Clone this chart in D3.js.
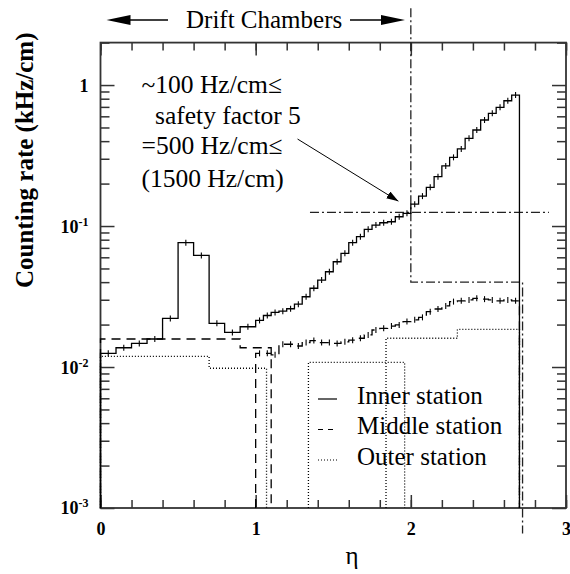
<!DOCTYPE html>
<html>
<head>
<meta charset="utf-8">
<script src="https://cdn.jsdelivr.net/npm/d3@7"></script>
<style>
  body { margin: 0; background: #fff; }
  text { font-family: "Liberation Serif", "Times New Roman", serif; fill: #000; }
</style>
</head>
<body>
<div id="chart"></div>
<script>
// bin edges in eta and counting rates in kHz/cm
const innerEdges = [0, 0.1, 0.2, 0.3, 0.4, 0.5, 0.6, 0.7, 0.8, 0.9, 1.0,
  1.05, 1.1, 1.15, 1.2, 1.25, 1.3, 1.35, 1.4, 1.45, 1.5, 1.55, 1.6, 1.65, 1.7,
  1.75, 1.8, 1.85, 1.9, 1.95, 2.0, 2.05, 2.1, 2.15, 2.2, 2.25, 2.3, 2.35, 2.4,
  2.45, 2.5, 2.55, 2.6, 2.65, 2.7];
const innerRate = [0.0125, 0.0137, 0.0147, 0.0158, 0.0221, 0.0762, 0.0619, 0.0204, 0.0176, 0.0193,
  0.0214, 0.0232, 0.0244, 0.0249, 0.0259, 0.0279, 0.0315, 0.0362, 0.0414, 0.0474,
  0.0558, 0.0640, 0.0762, 0.0840, 0.0948, 0.1016, 0.1055, 0.1072, 0.1164, 0.1230,
  0.143, 0.163, 0.188, 0.224, 0.267, 0.307, 0.352, 0.419, 0.480, 0.565,
  0.630, 0.695, 0.774, 0.849];

const middleBarrelEdges = [0, 0.1, 0.2, 0.3, 0.4, 0.5, 0.6, 0.7, 0.8, 0.9, 1.0, 1.1];
const middleBarrelRate = [0.0158, 0.0158, 0.0158, 0.0158, 0.0158, 0.0158, 0.0158, 0.0158, 0.0158, 0.0137, 0.0137];

const middleEndcapEdges = [1.0, 1.05, 1.1, 1.15, 1.2, 1.25, 1.3, 1.35, 1.4, 1.45, 1.5,
  1.55, 1.6, 1.65, 1.7, 1.75, 1.8, 1.85, 1.9, 1.95, 2.0, 2.05, 2.1, 2.15, 2.2,
  2.25, 2.3, 2.35, 2.4, 2.45, 2.5, 2.55, 2.6, 2.65, 2.7];
const middleEndcapRate = [0.0125, 0.0125, 0.0122, 0.0145, 0.0145, 0.0141, 0.0149, 0.0154, 0.0149, 0.0149,
  0.0147, 0.0151, 0.0155, 0.0160, 0.0169, 0.0183, 0.0188, 0.0195, 0.0199, 0.0210,
  0.0216, 0.0225, 0.0247, 0.0258, 0.0271, 0.0291, 0.0295, 0.0299, 0.0307, 0.0303,
  0.0299, 0.0295, 0.0299, 0.0295];

const outerBarrelEdges = [0, 0.7, 1.07];
const outerBarrelRate = [0.0119, 0.0098];
const outerOverlapEdges = [1.34, 1.96];
const outerOverlapRate = [0.0108];
const outerEndcapEdges = [1.84, 2.3, 2.7];
const outerEndcapRate = [0.0160, 0.0185];

// dash-dot guide lines [eta, rate]
const safetyLine = [[1.35, 0.125], [2.89, 0.125]];
const chamberLimit = [[2.0, 3.5], [2.0, 0.04], [2.72, 0.04], [2.72, 0.00066]];
const arrowFrom = [1.27, 0.414];
const arrowTo = [1.92, 0.150];

const xTickValues = [0, 1, 2, 3];
const yTickValues = [1e-3, 1e-2, 1e-1, 1];
const yTickLabels = [["10", "-3"], ["10", "-2"], ["10", "-1"], ["1", ""]];
const legendLabels = ["Inner station", "Middle station", "Outer station"];
const noteLines = ["~100 Hz/cm\u2264", "safety factor 5", "=500 Hz/cm\u2264", "(1500 Hz/cm)"];

const W = 570, H = 574;
const margin = { top: 42.6, right: 4, bottom: 66, left: 100.5 };
const width = W - margin.left - margin.right;
const height = H - margin.top - margin.bottom;

const root = d3.select("#chart").append("svg")
  .attr("width", W).attr("height", H);

const svg = root.append("g")
  .attr("transform", "translate(" + margin.left + "," + margin.top + ")");

const x = d3.scaleLinear().domain([0, 3]).range([0, width]);
const y = d3.scaleLog().domain([1e-3, 2]).range([height, 0]);

const floor = 1e-3;

// step outline of a histogram, dropping to the floor at both ends
function stepPath(edges, rates) {
  const pts = [[edges[0], floor]];
  rates.forEach(function (r, i) {
    pts.push([edges[i], r]);
    pts.push([edges[i + 1], r]);
  });
  pts.push([edges[edges.length - 1], floor]);
  return d3.line()
    .x(function (d) { return x(d[0]); })
    .y(function (d) { return y(Math.max(d[1], floor)); })(pts);
}

function drawHist(edges, rates, dash) {
  svg.append("path")
    .attr("d", stepPath(edges, rates))
    .attr("fill", "none")
    .attr("stroke", "#000")
    .attr("stroke-width", 1.3)
    .attr("stroke-dasharray", dash);
}

function drawErrors(edges, rates, half) {
  svg.selectAll(null)
    .data(rates)
    .enter()
    .append("line")
    .attr("x1", function (d, i) { return x((edges[i] + edges[i + 1]) / 2); })
    .attr("x2", function (d, i) { return x((edges[i] + edges[i + 1]) / 2); })
    .attr("y1", function (d) { return y(d) - half; })
    .attr("y2", function (d) { return y(d) + half; })
    .attr("stroke", "#000")
    .attr("stroke-width", 1.1);
}

// axes: ticks point inward on all four sides
const tickColor = "#333";
function styleAxis(g) {
  g.select(".domain").remove();
  g.selectAll("line").attr("stroke", tickColor).attr("stroke-width", 1.5);
}

svg.append("g")
  .attr("transform", "translate(0," + height + ")")
  .call(d3.axisBottom(x).tickValues(x.ticks(15)).tickSize(-8).tickFormat(""))
  .call(styleAxis);
svg.append("g")
  .attr("transform", "translate(0," + height + ")")
  .call(d3.axisBottom(x).tickValues(xTickValues).tickSize(-13).tickPadding(14).tickFormat(d3.format("d")))
  .call(styleAxis)
  .selectAll("text")
  .style("font-family", "'Liberation Serif', serif")
  .style("font-size", "18px")
  .style("font-weight", "bold");

svg.append("g")
  .call(d3.axisTop(x).tickValues(x.ticks(15)).tickSize(-8).tickFormat(""))
  .call(styleAxis);
svg.append("g")
  .call(d3.axisTop(x).tickValues(xTickValues).tickSize(-13).tickFormat(""))
  .call(styleAxis);

const minorY = y.ticks().filter(function (d) {
  return yTickValues.indexOf(d) < 0 && d <= 2;
});

svg.append("g")
  .call(d3.axisLeft(y).tickValues(minorY).tickSize(-9).tickFormat(""))
  .call(styleAxis);
svg.append("g")
  .call(d3.axisLeft(y).tickValues(yTickValues).tickSize(-14).tickFormat(""))
  .call(styleAxis);
svg.append("g")
  .attr("transform", "translate(" + width + ",0)")
  .call(d3.axisRight(y).tickValues(minorY).tickSize(-9).tickFormat(""))
  .call(styleAxis);
svg.append("g")
  .attr("transform", "translate(" + width + ",0)")
  .call(d3.axisRight(y).tickValues(yTickValues).tickSize(-14).tickFormat(""))
  .call(styleAxis);

// y tick labels with superscripts
yTickValues.forEach(function (v, i) {
  const t = svg.append("text")
    .attr("x", -12)
    .attr("y", y(v) + 6.5)
    .attr("text-anchor", "end")
    .style("font-size", "18px")
    .style("font-weight", "bold");
  t.append("tspan").text(yTickLabels[i][0]);
  if (yTickLabels[i][1]) {
    t.append("tspan")
      .attr("dy", -7)
      .style("font-size", "12px")
      .text(yTickLabels[i][1]);
  }
});

// frame
svg.append("rect")
  .attr("x", 0).attr("y", 0)
  .attr("width", width).attr("height", height)
  .attr("fill", "none")
  .attr("stroke", "#333")
  .attr("stroke-width", 1.8);

// dash-dot guide lines
const guide = d3.line()
  .x(function (d) { return x(d[0]); })
  .y(function (d) { return y(d[1]); });
[safetyLine, chamberLimit].forEach(function (pts) {
  svg.append("path")
    .attr("d", guide(pts))
    .attr("fill", "none")
    .attr("stroke", "#222")
    .attr("stroke-width", 1.3)
    .attr("stroke-dasharray", "9,3,2,3");
});

// histograms
drawHist(outerBarrelEdges, outerBarrelRate, "1,2");
drawHist(outerOverlapEdges, outerOverlapRate, "1,2");
drawHist(outerEndcapEdges, outerEndcapRate, "1,2");
drawHist(middleBarrelEdges, middleBarrelRate, "9,6");
drawHist(middleEndcapEdges, middleEndcapRate, "9,6");
drawErrors(middleEndcapEdges, middleEndcapRate, 3);
drawHist(innerEdges, innerRate, null);
drawErrors(innerEdges, innerRate, 3);

// annotation
root.append("defs").append("marker")
  .attr("id", "head")
  .attr("viewBox", "0 0 12 8")
  .attr("refX", 12).attr("refY", 4)
  .attr("markerWidth", 12).attr("markerHeight", 8)
  .attr("markerUnits", "userSpaceOnUse")
  .attr("orient", "auto")
  .append("path")
  .attr("d", "M0,0L12,4L0,8Z")
  .attr("fill", "#000");

svg.append("line")
  .attr("x1", x(arrowFrom[0])).attr("y1", y(arrowFrom[1]))
  .attr("x2", x(arrowTo[0])).attr("y2", y(arrowTo[1]))
  .attr("stroke", "#000")
  .attr("stroke-width", 1)
  .attr("marker-end", "url(#head)");

const noteX = [141.5, 155, 141.5, 141.5];
const noteY = [93, 124, 154, 187];
root.selectAll("noteText")
  .data(noteLines)
  .enter()
  .append("text")
  .attr("x", function (d, i) { return noteX[i]; })
  .attr("y", function (d, i) { return noteY[i]; })
  .style("font-size", "25.5px")
  .text(function (d) { return d; });

// top banner
root.append("text")
  .attr("x", 186).attr("y", 28)
  .style("font-size", "25px")
  .text("Drift Chambers");

function bannerArrow(x1, x2) {
  const dir = x2 > x1 ? 1 : -1;
  const yy = 20;
  root.append("line")
    .attr("x1", x1).attr("y1", yy)
    .attr("x2", x2 - dir * 22).attr("y2", yy)
    .attr("stroke", "#000").attr("stroke-width", 1.5);
  root.append("path")
    .attr("d", "M" + x2 + "," + yy + "L" + (x2 - dir * 24) + "," + (yy - 5) +
      "L" + (x2 - dir * 24) + "," + (yy + 5) + "Z")
    .attr("fill", "#000");
}
bannerArrow(168, 106.5);
bannerArrow(350, 405);

// legend
const legendDash = [null, "5,5", "1,2"];
const legendX = 318, legendY = 399, legendStep = 30.5;
legendLabels.forEach(function (label, i) {
  svg.append("line")
    .attr("x1", legendX - margin.left).attr("x2", legendX + 19 - margin.left)
    .attr("y1", legendY + i * legendStep - margin.top)
    .attr("y2", legendY + i * legendStep - margin.top)
    .attr("stroke", "#000")
    .attr("stroke-width", 1.2)
    .attr("stroke-dasharray", legendDash[i]);
  svg.append("text")
    .attr("x", 357 - margin.left)
    .attr("y", legendY + 5 + i * legendStep - margin.top)
    .style("font-size", "25px")
    .text(label);
});

// axis titles
root.append("text")
  .attr("x", 352).attr("y", 564)
  .attr("text-anchor", "middle")
  .style("font-size", "25px")
  .text("\u03b7");

root.append("text")
  .attr("transform", "translate(33,288) rotate(-90)")
  .attr("text-anchor", "start")
  .style("font-size", "25px")
  .style("font-weight", "bold")
  .text("Counting rate (kHz/cm)");
</script>
</body>
</html>
